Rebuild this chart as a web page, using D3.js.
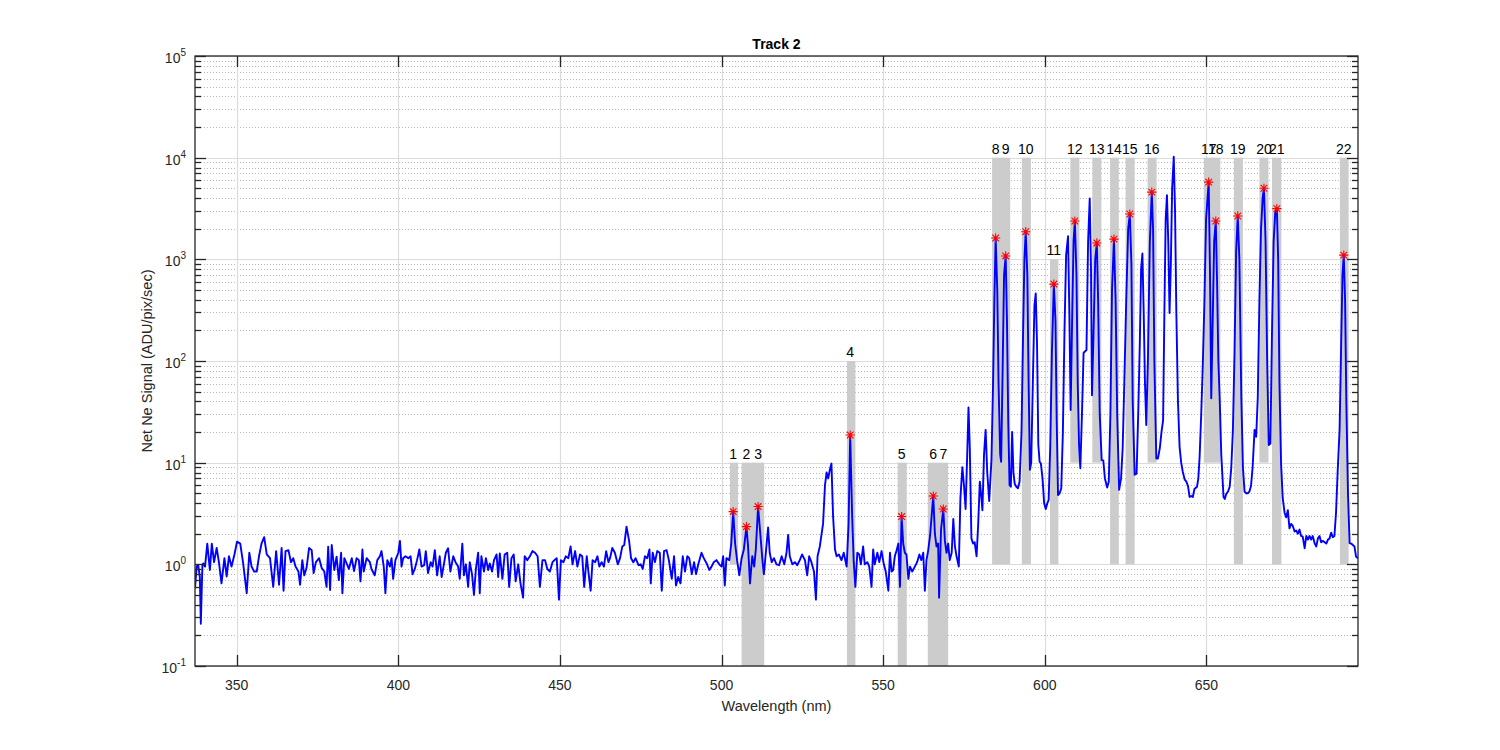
<!DOCTYPE html>
<html><head><meta charset="utf-8">
<script src="https://cdn.jsdelivr.net/npm/d3@7"></script>
<style>body{margin:0;background:#fff}svg{display:block}text{font-family:"Liberation Sans",Arial,sans-serif}</style>
</head><body>
<script>
// ---------- data ----------
const baselineSpectrum = [[337.1,0.58],[337.6,0.95],[338.1,0.98],[338.6,0.75],[338.9,0.26],[339.4,1.0],[339.7,1.02],[340.2,0.95],[340.9,1.6],[341.7,0.88],[342.3,1.6],[343.0,1.05],[343.8,1.45],[344.5,1.05],[345.3,0.65],[346.2,1.15],[346.9,0.76],[347.6,1.2],[348.4,0.95],[349.3,1.25],[350.1,1.67],[351.1,1.6],[352.0,1.02],[353.1,0.52],[353.9,1.3],[354.6,0.95],[355.4,0.85],[356.2,0.85],[356.9,1.2],[357.7,1.61],[358.5,1.85],[359.3,1.25],[360.3,1.15],[361.3,0.60],[362.2,1.35],[363.1,0.63],[363.9,1.45],[364.5,0.55],[365.1,1.35],[366.0,1.38],[366.8,1.05],[367.5,1.15],[368.2,0.95],[369.1,0.85],[369.6,0.63],[370.3,1.1],[370.9,0.78],[371.6,0.92],[372.4,1.45],[373.2,1.38],[373.8,0.82],[374.5,1.05],[375.5,1.15],[376.3,0.92],[377.1,0.85],[377.8,0.60],[378.3,1.49],[378.9,0.56],[379.4,1.55],[380.2,0.88],[380.9,1.19],[381.6,0.70],[382.3,1.3],[382.7,0.52],[383.3,1.15],[384.0,1.02],[384.7,0.90],[385.6,1.15],[386.3,0.86],[387.1,1.15],[387.8,1.10],[388.3,0.68],[388.9,1.40],[389.3,0.85],[390.2,1.15],[391.2,1.05],[391.7,0.9],[392.7,0.78],[393.5,1.1],[394.3,1.2],[394.8,1.35],[395.5,0.95],[396.0,0.52],[396.6,1.1],[397.4,0.95],[397.9,1.15],[398.4,0.72],[399.1,1.1],[400.0,1.3],[400.5,1.7],[401.0,0.95],[401.5,1.15],[402.2,1.2],[403.1,1.15],[403.8,1.2],[404.4,0.80],[405.1,0.90],[405.8,1.1],[406.5,1.4],[407.2,0.95],[408.0,0.98],[408.5,1.35],[409.2,0.82],[410.0,1.05],[410.6,0.95],[411.3,1.38],[412.0,0.78],[412.8,1.2],[413.4,0.75],[414.1,1.0],[414.7,1.3],[415.4,1.44],[416.1,0.85],[417.0,1.2],[417.7,1.05],[418.5,0.95],[419.0,0.72],[419.8,1.6],[420.3,0.78],[420.9,1.0],[421.6,0.60],[422.1,1.05],[422.8,0.80],[423.4,0.50],[424.0,0.9],[424.7,1.3],[425.2,0.52],[425.7,1.2],[426.5,0.85],[427.1,1.15],[427.8,0.88],[428.3,1.02],[429.0,0.85],[429.6,1.1],[430.4,1.25],[430.9,0.75],[431.4,1.28],[432.2,0.72],[432.9,1.25],[433.7,1.3],[434.3,0.60],[435.0,1.15],[435.7,1.25],[436.3,0.68],[437.1,1.0],[437.8,0.65],[438.6,0.47],[439.1,1.2],[439.9,1.1],[440.7,1.2],[441.5,1.35],[442.3,1.3],[443.1,1.2],[443.8,0.60],[444.6,1.1],[445.4,1.1],[446.1,0.90],[446.9,0.85],[447.7,1.05],[448.3,1.1],[449.0,1.15],[449.7,0.45],[450.3,1.1],[451.1,1.05],[451.8,1.2],[452.6,1.15],[453.3,1.5],[453.9,1.0],[454.7,1.35],[455.4,0.95],[456.2,1.25],[456.9,1.2],[457.5,0.60],[458.3,1.2],[458.8,0.85],[459.5,0.55],[460.1,1.1],[460.9,1.05],[461.6,1.2],[462.2,0.95],[462.9,1.05],[463.6,0.95],[464.3,1.35],[465.0,1.05],[465.5,1.15],[466.2,1.45],[467.0,1.3],[467.9,1.0],[468.6,1.15],[469.3,1.5],[469.9,1.55],[470.6,2.35],[471.4,1.7],[472.0,1.15],[472.7,1.05],[473.4,1.15],[474.3,0.98],[475.0,1.0],[475.6,0.90],[476.3,1.2],[477.0,1.15],[477.7,1.4],[478.1,0.65],[478.7,1.3],[479.4,1.05],[480.1,1.35],[480.9,1.3],[481.5,0.55],[482.2,1.35],[483.0,1.38],[483.7,1.1],[484.6,0.72],[485.3,1.2],[485.9,0.62],[486.6,0.75],[487.3,0.65],[488.0,1.2],[488.7,0.85],[489.4,1.2],[490.0,1.15],[490.8,0.80],[491.5,1.05],[492.1,0.80],[492.8,1.0],[493.8,1.3],[494.5,1.15],[495.4,1.02],[496.2,0.88],[496.9,0.95],[497.6,1.05],[498.4,1.1],[499.3,1.0]];

const midSpectrum = [[500.0,0.95],[500.5,1.2],[501.0,0.62],[501.5,1.15],[502.4,1.1],[503.0,1.6],[503.6,3.3],[504.2,1.6],[504.8,1.1],[505.5,0.78],[506.2,1.15],[506.9,1.4],[507.7,2.35],[508.2,1.5],[508.8,0.65],[509.5,1.2],[510.1,0.95],[510.6,1.4],[511.3,3.7],[512.1,1.8],[512.7,1.05],[513.1,0.80],[513.7,1.3],[514.4,2.3],[514.9,1.3],[515.5,1.05],[516.2,1.15],[517.0,1.0],[517.8,0.98],[518.6,1.2],[519.4,1.0],[520.1,1.3],[520.6,1.95],[521.1,1.2],[521.9,1.0],[522.7,1.05],[523.4,0.98],[524.2,1.1],[524.9,1.25],[525.8,1.1],[526.5,0.78],[527.1,1.2],[527.8,1.05],[528.6,0.85],[529.2,0.45],[529.7,1.2],[530.4,1.5],[531.4,2.5],[532.0,6.0],[532.5,8.0],[533.0,7.0],[533.5,8.5],[534.0,9.8],[534.5,3.0],[535.1,1.4],[535.6,1.2],[536.3,1.25],[537.1,1.1],[537.8,1.3],[538.7,0.95],[539.3,2.5],[539.8,18.7],[540.4,3.0],[540.9,1.05],[541.4,0.60],[542.0,1.3],[542.6,1.25],[543.1,1.0],[543.8,1.5],[544.3,1.0],[545.1,1.05],[545.7,0.95],[546.4,0.60],[546.9,1.4],[547.4,1.0],[548.2,1.3],[548.8,1.05],[549.5,1.35],[550.2,1.0],[550.8,0.85],[551.6,0.55],[552.1,1.3],[552.6,0.85],[553.1,0.88],[553.6,1.2],[554.1,1.35],[554.7,1.6],[555.2,0.60],[555.7,2.95],[556.2,1.6],[556.7,1.3],[557.2,1.25],[557.8,0.72],[558.3,0.95],[559.0,0.85],[559.8,0.95],[560.5,1.05],[561.2,1.25],[561.8,1.1],[562.4,1.3],[562.9,0.55],[563.4,1.1],[563.9,1.35],[564.5,1.9],[565.0,3.0],[565.5,4.7],[566.0,2.0],[566.5,1.5],[567.0,1.6],[567.3,0.47],[567.9,2.2],[568.6,3.5],[569.1,1.7],[569.6,1.3],[570.1,1.6],[570.6,1.1],[571.2,1.3],[571.7,2.8],[572.2,1.5],[572.7,1.2],[573.4,0.95]];

const lineSpectrum = [[573.9,4.5],[574.5,9],[575.0,6],[575.5,3.5],[576.0,12],[576.4,35],[576.8,14],[577.3,1.8],[577.8,1.6],[578.3,1.65],[578.9,1.2],[579.4,2.5],[579.9,6.5],[580.4,4.5],[580.7,3.4],[581.2,12],[581.7,21],[582.2,8],[582.8,4.2],[583.5,10.6],[584.0,60],[584.4,400],[584.8,1620],[585.3,500],[585.7,60],[586.2,12],[586.5,10.2],[587.0,100],[587.4,700],[587.9,1080],[588.3,250],[588.7,25],[589.1,6],[589.5,5.8],[589.9,20],[590.3,8],[590.7,6.2],[591.2,5.8],[591.7,5.6],[592.2,6.5],[592.8,20],[593.3,200],[593.7,1000],[594.1,1870],[594.6,700],[595.0,60],[595.4,8.5],[595.8,10],[596.3,60],[596.8,350],[597.2,463],[597.6,150],[598.0,15],[598.4,10.2],[598.8,9.8],[599.3,7],[599.8,4.0],[600.3,3.5],[600.8,4.0],[601.2,4.3],[601.7,15],[602.2,120],[602.8,571],[603.3,250],[603.7,25],[604.1,4.8],[604.6,5.0],[605.1,5.6],[605.6,20],[606.1,200],[606.6,1100],[607.2,1690],[607.6,300],[608.0,33],[608.5,300],[608.9,1500],[609.3,2380],[609.8,700],[610.2,60],[610.6,15],[611.0,8.8],[611.5,30],[612.0,120],[612.4,124],[612.9,128],[613.4,1500],[613.9,3980],[614.3,800],[614.6,46],[615.1,200],[615.6,1000],[616.1,1450],[616.5,400],[617.0,30],[617.6,10.6],[618.1,10.5],[618.6,7],[619.3,5.7],[619.8,6.5],[620.3,30],[620.8,500],[621.4,1580],[621.9,400],[622.4,30],[623.0,5.4],[623.6,7],[624.1,14],[624.6,60],[625.2,400],[625.8,2000],[626.3,2790],[626.8,900],[627.2,40],[627.8,7.6],[628.4,7.8],[628.9,30],[629.4,150],[629.8,800],[630.2,1140],[630.6,300],[631.0,60],[631.4,23.5],[631.9,100],[632.5,1500],[633.1,4580],[633.5,2000],[633.9,100],[634.5,11],[635.0,11],[635.6,14],[636.1,20],[636.6,26],[637.0,300],[637.4,2500],[637.8,4270],[638.2,1500],[638.6,297],[639.0,900],[639.4,5000],[639.9,10200],[640.3,3000],[640.7,300],[641.2,40],[641.7,14.3],[642.2,10],[642.7,8.1],[643.3,6.8],[643.8,6.5],[644.3,5.9],[644.8,4.6],[645.3,4.7],[645.8,4.6],[646.3,5.5],[647.1,5.8],[647.5,7],[647.9,11.4],[648.4,30],[648.9,95],[649.4,400],[649.9,2500],[650.7,5750],[651.1,800],[651.5,43],[652.0,300],[652.4,1500],[652.9,2380],[653.3,600],[653.7,100],[654.1,44],[654.6,12],[655.3,4.6],[655.7,4.4],[656.1,4.9],[656.7,5.2],[657.2,5.8],[657.7,9],[658.2,21],[658.7,120],[659.2,1200],[659.7,2670],[660.2,1000],[660.8,44],[661.3,9],[661.8,5.2],[662.3,5.0],[662.8,5.0],[663.3,5.2],[663.8,5.9],[664.3,9],[664.9,21],[665.4,18],[665.9,44],[666.4,400],[666.9,2000],[667.4,4000],[667.8,5000],[668.3,1500],[668.8,100],[669.3,14.9],[669.8,15.4],[670.3,200],[670.8,1500],[671.3,2900],[671.8,3150],[672.2,1000],[672.6,60],[673.1,9.85],[673.6,4.5],[674.2,3.2],[674.7,2.9],[675.2,3.4],[675.7,2.26],[676.2,2.5],[676.7,2.4],[677.3,2.1],[677.8,2.15],[678.3,2.0],[678.8,2.2],[679.3,1.9],[679.8,1.87],[680.4,1.44],[680.9,1.9],[681.4,1.75],[681.9,1.9],[682.4,1.75],[682.9,1.9],[683.5,1.6],[684.0,1.5],[684.5,1.8],[685.0,1.9],[685.5,1.65],[686.0,1.7],[686.6,1.65],[687.1,1.6],[687.6,1.75],[688.1,1.8],[688.6,2.05],[689.1,1.85],[689.6,1.9],[690.1,3.2],[690.6,8],[691.2,21],[691.7,150],[692.1,700],[692.5,1100],[692.9,400],[693.3,38],[693.8,5],[694.3,1.61],[694.8,1.6],[695.3,1.55],[695.8,1.5],[696.3,1.19],[696.9,1.15]];

const peakLabels = ["1","2","3","4","5","6","7","8","9","10","11","12","13","14","15","16","17","18","19","20","21","22"];
const peakNm     = [503.6,507.7,511.3,539.8,555.7,565.5,568.6,584.8,587.9,594.1,602.8,609.3,616.1,621.4,626.3,633.1,650.7,652.9,659.7,667.8,671.8,692.5];
const peakSignal = [3.3,2.35,3.7,18.7,2.95,4.7,3.5,1620,1080,1870,571,2380,1450,1580,2790,4580,5750,2380,2670,5000,3150,1100];

const bandLo     = [502.6,506.2,509.5,538.8,554.5,563.8,566.8,583.7,586.4,592.9,601.6,607.9,614.7,620.2,625.0,631.8,649.2,651.6,658.5,666.4,670.3,691.3];
const bandHi     = [505.1,509.9,513.2,541.4,557.3,567.0,570.1,586.5,589.3,595.7,604.2,610.7,617.5,622.9,627.8,634.6,651.9,654.3,661.3,669.2,673.2,694.0];
const bandBottom = [1,0.1,0.1,0.1,0.1,0.1,0.1,1,1,1,1,10,10,1,1,10,10,10,1,10,1,1];
const bandTop    = [10,10,10,100,10,10,10,1e4,1e4,1e4,1e3,1e4,1e4,1e4,1e4,1e4,1e4,1e4,1e4,1e4,1e4,1e4];

const xTicks = [350,400,450,500,550,600,650];
const yTickExponents = [-1,0,1,2,3,4,5];
const xDomain = [337.1, 696.9];
const yDomain = [0.1, 1e5];
const titleText = "Track 2";
const xLabel = "Wavelength (nm)";
const yLabel = "Net Ne Signal (ADU/pix/sec)";

// ---------- layout ----------
const W = 1500, H = 750;
const L = 195, R = 1358, T = 56, B = 666;
const axisColor = "#262626";

const svg = d3.select("body").append("svg").attr("width", W).attr("height", H);
svg.append("rect").attr("width", W).attr("height", H).attr("fill", "#fff");

const x = d3.scaleLinear().domain(xDomain).range([L, R]);
const y = d3.scaleLog().domain(yDomain).range([B, T]);

svg.append("defs").append("clipPath").attr("id", "clip")
  .append("rect").attr("x", L).attr("y", T).attr("width", R - L).attr("height", B - T);

// minor y grid
const minorVals = [];
for (let e = -1; e < 5; e++) for (let m = 2; m <= 9; m++) minorVals.push(m * Math.pow(10, e));
const grid = svg.append("g");
grid.selectAll("line.minor").data(minorVals).join("line")
  .attr("x1", L).attr("x2", R).attr("y1", d => Math.round(y(d)) + 0.5).attr("y2", d => Math.round(y(d)) + 0.5)
  .attr("stroke", "#b8b8b8").attr("stroke-width", 1).attr("stroke-dasharray", "1,2");
// major grids
const yMajor = yTickExponents.map(e => Math.pow(10, e));
grid.selectAll("line.ymaj").data(yMajor).join("line")
  .attr("x1", L).attr("x2", R).attr("y1", d => Math.round(y(d)) + 0.5).attr("y2", d => Math.round(y(d)) + 0.5)
  .attr("stroke", "#dcdcdc").attr("stroke-width", 1.2);
grid.selectAll("line.xmaj").data(xTicks).join("line")
  .attr("y1", T).attr("y2", B).attr("x1", d => Math.round(x(d)) + 0.5).attr("x2", d => Math.round(x(d)) + 0.5)
  .attr("stroke", "#dcdcdc").attr("stroke-width", 1.2);

// bands
const bands = bandLo.map((lo, i) => ({lo, hi: bandHi[i], b: bandBottom[i], t: bandTop[i]}));
svg.append("g").selectAll("rect").data(bands).join("rect")
  .attr("x", d => x(d.lo)).attr("width", d => x(d.hi) - x(d.lo))
  .attr("y", d => y(d.t)).attr("height", d => y(d.b) - y(d.t))
  .attr("fill", "#cccccc");

// spectrum line
const spectrum = baselineSpectrum.concat(midSpectrum, lineSpectrum);
const line = d3.line().x(d => x(d[0])).y(d => y(d[1]));
svg.append("path").datum(spectrum).attr("clip-path", "url(#clip)")
  .attr("d", line).attr("fill", "none").attr("stroke", "#0000ff")
  .attr("stroke-width", 1.9).attr("stroke-linejoin", "round");

// star markers
const r = 4.6, a = r * 0.72;
const starPath = `M${-r},0L${r},0M0,${-r}L0,${r}M${-a},${-a}L${a},${a}M${-a},${a}L${a},${-a}`;
svg.append("g").selectAll("path").data(peakNm).join("path")
  .attr("transform", (d, i) => `translate(${x(d)},${y(peakSignal[i])})`)
  .attr("d", starPath).attr("stroke", "#ff0000").attr("stroke-width", 1.1).attr("fill", "none");

// peak labels
svg.append("g").selectAll("text").data(peakLabels).join("text")
  .attr("x", (d, i) => x(peakNm[i])).attr("y", (d, i) => y(bandTop[i]) - 4)
  .attr("text-anchor", "middle").attr("font-size", 14).attr("fill", "#000")
  .text(d => d);

// axes box
const ax = svg.append("g");
ax.append("rect").attr("x", L).attr("y", T).attr("width", R - L).attr("height", B - T)
  .attr("fill", "none").attr("stroke", axisColor).attr("stroke-width", 1.3);

const tickLen = 11, minorLen = 6;
// x ticks (bottom & top, inward)
xTicks.forEach(t => {
  const xx = Math.round(x(t)) + 0.5;
  ax.append("line").attr("x1", xx).attr("x2", xx).attr("y1", B).attr("y2", B - tickLen).attr("stroke", axisColor).attr("stroke-width", 1.3);
  ax.append("line").attr("x1", xx).attr("x2", xx).attr("y1", T).attr("y2", T + tickLen).attr("stroke", axisColor).attr("stroke-width", 1.3);
});
svg.append("g").selectAll("text").data(xTicks).join("text")
  .attr("x", d => x(d)).attr("y", 690).attr("text-anchor", "middle")
  .attr("font-size", 14).attr("fill", axisColor).text(d => d);

// y ticks
yMajor.forEach(v => {
  const yy = Math.round(y(v)) + 0.5;
  ax.append("line").attr("x1", L).attr("x2", L + tickLen).attr("y1", yy).attr("y2", yy).attr("stroke", axisColor).attr("stroke-width", 1.3);
  ax.append("line").attr("x1", R).attr("x2", R - tickLen).attr("y1", yy).attr("y2", yy).attr("stroke", axisColor).attr("stroke-width", 1.3);
});
minorVals.forEach(v => {
  const yy = Math.round(y(v)) + 0.5;
  ax.append("line").attr("x1", L).attr("x2", L + minorLen).attr("y1", yy).attr("y2", yy).attr("stroke", axisColor).attr("stroke-width", 1.3);
  ax.append("line").attr("x1", R).attr("x2", R - minorLen).attr("y1", yy).attr("y2", yy).attr("stroke", axisColor).attr("stroke-width", 1.3);
});
const yl = svg.append("g").selectAll("text").data(yTickExponents).join("text")
  .attr("x", 186).attr("y", d => y(Math.pow(10, d)) + 7)
  .attr("text-anchor", "end").attr("font-size", 14).attr("fill", axisColor);
yl.append("tspan").text("10");
yl.append("tspan").attr("dy", -7).attr("font-size", 10).text(d => String(d));

// title & labels
svg.append("text").attr("x", (L + R) / 2).attr("y", 49).attr("text-anchor", "middle")
  .attr("font-size", 14).attr("font-weight", "bold").attr("fill", "#000").text(titleText);
svg.append("text").attr("x", (L + R) / 2).attr("y", 711).attr("text-anchor", "middle")
  .attr("font-size", 14.5).attr("fill", axisColor).text(xLabel);
svg.append("text").attr("transform", `translate(152,${(T + B) / 2}) rotate(-90)`)
  .attr("text-anchor", "middle").attr("font-size", 14.5).attr("fill", axisColor).text(yLabel);
</script>
</body></html>
